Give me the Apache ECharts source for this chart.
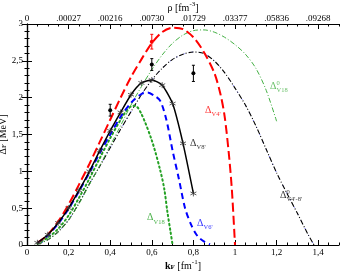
<!DOCTYPE html>
<html><head><meta charset="utf-8">
<script src="https://cdn.jsdelivr.net/npm/echarts@6/dist/echarts.min.js"></script>
<style>html,body{margin:0;padding:0;background:#fff}#c{width:342px;height:273px}</style>
</head><body><div id="c"></div>
<script>
// ---- data ----
const xTickValues = [0, 0.2, 0.4, 0.6, 0.8, 1.0, 1.2, 1.4];
const xTickLabels = ['0', '0,2', '0,4', '0,6', '0,8', '1', '1,2', '1,4'];
const rhoTickLabels = ['0', '.00027', '.00216', '.00730', '.01729', '.03377', '.05836', '.09268'];
const yTickValues = [0, 0.5, 1, 1.5, 2, 2.5, 3];
const yTickLabels = ['0', '0,5', '1', '1,5', '2', '2,5', '3'];

const kV4 = [0.05,0.1,0.15,0.2,0.25,0.3,0.35,0.4,0.45,0.5,0.55,0.6,0.65,0.7,0.75,0.8,0.85,0.9,0.93,0.95,0.97,0.985,1.0];
const dV4 = [0.03,0.14,0.32,0.55,0.82,1.1,1.4,1.7,2.0,2.28,2.52,2.74,2.89,2.95,2.93,2.82,2.62,2.34,2.05,1.75,1.25,0.75,0.0];

const kV8 = [0.05,0.1,0.15,0.2,0.25,0.3,0.35,0.4,0.45,0.5,0.55,0.6,0.65,0.7,0.75,0.8];
const dV8 = [0.03,0.14,0.3,0.5,0.74,1.0,1.28,1.55,1.8,2.04,2.2,2.24,2.17,1.92,1.38,0.7];

const kV6 = [0.05,0.1,0.15,0.2,0.25,0.3,0.35,0.4,0.45,0.5,0.55,0.58,0.61,0.64,0.67,0.7,0.73,0.76,0.79,0.82,0.85,0.88];
const dV6 = [0.03,0.13,0.29,0.49,0.73,0.98,1.25,1.5,1.74,1.93,2.05,2.07,2.03,1.96,1.7,1.28,0.9,0.5,0.27,0.12,0.05,0.01];

const kV18 = [0.05,0.1,0.15,0.2,0.25,0.3,0.35,0.4,0.45,0.48,0.5,0.52,0.55,0.6,0.64,0.66,0.675,0.69,0.7];
const dV18 = [0.02,0.1,0.22,0.4,0.64,0.9,1.18,1.45,1.7,1.83,1.88,1.89,1.78,1.42,1.02,0.76,0.45,0.18,0.0];

const kV18free = [0.05,0.1,0.15,0.2,0.25,0.3,0.35,0.4,0.45,0.5,0.55,0.6,0.65,0.7,0.75,0.8,0.85,0.9,0.95,1.0,1.05,1.1,1.15,1.2];
const dV18free = [0.01,0.07,0.18,0.34,0.56,0.82,1.08,1.35,1.62,1.9,2.15,2.38,2.58,2.74,2.85,2.91,2.92,2.89,2.82,2.72,2.59,2.4,2.1,1.68];

const kV48free = [0.05,0.1,0.15,0.2,0.25,0.3,0.35,0.4,0.45,0.5,0.55,0.6,0.65,0.7,0.75,0.8,0.85,0.9,0.95,1.0,1.05,1.1,1.15,1.2,1.25,1.3,1.35,1.38];
const dV48free = [0.01,0.07,0.18,0.34,0.57,0.83,1.07,1.32,1.57,1.81,2.04,2.24,2.4,2.52,2.59,2.62,2.6,2.5,2.34,2.13,1.9,1.62,1.3,0.98,0.7,0.43,0.15,0.0];

const kErrBlack = [0.4, 0.6, 0.8];
const dErrBlack = [1.83, 2.45, 2.33];
const eErrBlack = [0.08, 0.08, 0.11];
const kErrRed = [0.6];
const dErrRed = [2.76];
const eErrRed = [0.1];

const labelSubs = ["V4'", "V8'", "V6'", "V18", "V18", "V4'-8'"];
const labelSups = ['', '', '', '', '0', '0'];
const labelK = [0.856, 0.784, 0.817, 0.577, 1.168, 1.216];
const labelV = [1.83, 1.385, 0.30, 0.37, 2.16, 0.68];

// ---- styles ----
const FONT = 'Liberation Serif';
const RED = '#ff0000', BLUE = '#0000ff', GREEN = '#22a022', LGREEN = '#44b044', BLACK = '#000000';
const labelColors = [RED, BLACK, BLUE, GREEN, LGREEN, BLACK];

const zip = (a, b) => a.map((x, i) => [x, b[i]]);
const fmtFrom = (vals, labs) => v => { const i = vals.findIndex(t => Math.abs(t - v) < 1e-6); return i >= 0 ? labs[i] : ''; };

const baseAxisLine = { show: true, lineStyle: { color: BLACK, width: 1.2 } };
const tickLabelStyle = { fontFamily: FONT, fontSize: 9, color: BLACK };

function xMajor(position, labs, name, gap, margin) {
  return {
    type: 'value', position, min: 0, max: 1.5, interval: 0.2,
    axisLine: baseAxisLine,
    axisTick: { show: true, inside: true, length: 5, lineStyle: { color: BLACK, width: 1 } },
    axisLabel: Object.assign({ margin, formatter: fmtFrom(xTickValues, labs), showMaxLabel: false }, tickLabelStyle),
    splitLine: { show: false },
    name, nameLocation: 'middle', nameGap: gap, nameMoveOverlap: false,
    nameTextStyle: {
      fontFamily: FONT, fontSize: 10, color: BLACK,
      rich: {
        n: { fontFamily: FONT, fontSize: 10, color: BLACK, verticalAlign: 'bottom', lineHeight: 12 },
        b: { fontFamily: FONT, fontSize: 10, fontWeight: 'bold', color: BLACK, verticalAlign: 'bottom', lineHeight: 12 },
        s: { fontFamily: FONT, fontSize: 7, fontWeight: 'bold', color: BLACK, verticalAlign: 'bottom', lineHeight: 8, padding: [6, 0, 0, 0] },
        p: { fontFamily: FONT, fontSize: 7, color: BLACK, verticalAlign: 'top', lineHeight: 8 }
      }
    }
  };
}
function xMinor(position) {
  return {
    type: 'value', position, min: 0, max: 1.5, interval: 0.05,
    axisLine: { show: false },
    axisTick: { show: true, inside: true, length: 2.5, lineStyle: { color: BLACK, width: 1 } },
    axisLabel: { show: false }, splitLine: { show: false }
  };
}
function yAxis(position, showLabel) {
  return {
    type: 'value', position, min: 0, max: 3, interval: 0.5,
    axisLine: baseAxisLine,
    axisTick: { show: true, inside: true, length: 5, lineStyle: { color: BLACK, width: 1 } },
    minorTick: { show: true, splitNumber: 5, length: 2.5, lineStyle: { color: BLACK, width: 1 } },
    axisLabel: Object.assign({ show: showLabel, margin: 4, formatter: fmtFrom(yTickValues, yTickLabels) }, tickLabelStyle),
    splitLine: { show: false },
    name: showLabel ? '{d|Δ}{s|F}{n| [MeV]}' : '', nameLocation: 'middle', nameGap: 19, nameRotate: 90, nameMoveOverlap: false,
    nameTextStyle: {
      rich: {
        d: { fontFamily: FONT, fontSize: 10, color: BLACK, verticalAlign: 'top', lineHeight: 10 },
        n: { fontFamily: FONT, fontSize: 10, color: BLACK, verticalAlign: 'top', lineHeight: 10 },
        s: { fontFamily: FONT, fontSize: 7, color: BLACK, verticalAlign: 'bottom', lineHeight: 7, padding: [5, 0, 0, 0] }
      }
    }
  };
}

function errBarSeries(ks, ds, es, color) {
  return {
    type: 'custom', xAxisIndex: 0, yAxisIndex: 0, z: 5,
    data: ks.map((k, i) => [k, ds[i], es[i]]),
    renderItem(params, api) {
      const k = api.value(0), v = api.value(1), e = api.value(2);
      const p = api.coord([k, v]), lo = api.coord([k, v - e]), hi = api.coord([k, v + e]);
      return {
        type: 'group', children: [
          { type: 'line', shape: { x1: p[0], y1: hi[1], x2: p[0], y2: lo[1] }, style: { stroke: color, lineWidth: 1 } },
          { type: 'line', shape: { x1: p[0] - 1.5, y1: hi[1], x2: p[0] + 1.5, y2: hi[1] }, style: { stroke: color, lineWidth: 1 } },
          { type: 'line', shape: { x1: p[0] - 1.5, y1: lo[1], x2: p[0] + 1.5, y2: lo[1] }, style: { stroke: color, lineWidth: 1 } },
          { type: 'circle', shape: { cx: p[0], cy: p[1], r: 2 }, style: { fill: color } }
        ]
      };
    }
  };
}

const starPath = 'path://M5,0L5,10M0.7,2.5L9.3,7.5M0.7,7.5L9.3,2.5';

const lineSeries = (data, color, width, type, extra) => Object.assign({
  type: 'line', xAxisIndex: 0, yAxisIndex: 0, data, smooth: 0.3, symbol: 'none',
  lineStyle: { color, width, type }, z: 3
}, extra || {});

const labelRich = (color) => ({
  d: { fontFamily: FONT, fontSize: 10, color, lineHeight: 10 },
  p: { fontFamily: FONT, fontSize: 6.5, color, lineHeight: 7 },
  b: { fontFamily: FONT, fontSize: 6.5, color, lineHeight: 7 }
});

const deltaLabels = {
  type: 'scatter', xAxisIndex: 0, yAxisIndex: 0, symbolSize: 0, z: 10, silent: true,
  data: labelK.map((k, i) => ({
    value: [k, labelV[i]],
    label: { show: true, position: 'right', distance: 0, formatter: '{d|Δ}', rich: labelRich(labelColors[i]) }
  })).concat(labelK.map((k, i) => ({
    value: [k, labelV[i]],
    label: { show: true, position: 'right', distance: 0, offset: [6.5, 1], formatter: '{p|' + (labelSups[i] || ' ') + '}\n{b|' + labelSubs[i] + '}', rich: labelRich(labelColors[i]) }
  })))
};

const option = {
  backgroundColor: '#ffffff',
  animation: false,
  grid: { left: 27, right: 3, top: 24, bottom: 28, containLabel: false, outerBoundsMode: 'none' },
  xAxis: [
    xMajor('bottom', xTickLabels, '{b|k}{s|F}{n| [fm}{p|-1}{n|]}', 14, 3),
    xMinor('bottom'),
    xMajor('top', rhoTickLabels, '{n|ρ [fm}{p|-3}{n|]}', 11, 1),
    xMinor('top')
  ],
  yAxis: [yAxis('left', true), yAxis('right', false)],
  series: [
    lineSeries(zip(kV48free, dV48free), '#4040ff', 1, [1, 7], { lineStyle: { color: '#6060ff', width: 1, type: [1, 7], dashOffset: 3 }, z: 2 }),
    lineSeries(zip(kV48free, dV48free), BLACK, 1.1, [5, 2, 1, 2]),
    lineSeries(zip(kV18free, dV18free), LGREEN, 1, [5, 2, 1, 2]),
    lineSeries(zip(kV18, dV18), GREEN, 2, [1.5, 3], { lineStyle: { color: GREEN, width: 2, type: [1.5, 3], cap: 'round' } }),
    lineSeries(zip(kV6, dV6), BLUE, 2, [6, 4]),
    lineSeries(zip(kV4, dV4), RED, 2, [9, 4]),
    lineSeries(zip(kV8, dV8), BLACK, 1.5, 'solid', {
      symbol: starPath, symbolSize: 6, showSymbol: true, showAllSymbol: true,
      itemStyle: { color: 'none', borderColor: '#333', borderWidth: 0.8 }, smooth: 0.2
    }),
    errBarSeries(kErrBlack, dErrBlack, eErrBlack, BLACK),
    errBarSeries(kErrRed, dErrRed, eErrRed, RED),
    deltaLabels
  ]
};

const chart = echarts.init(document.getElementById('c'), null, { renderer: 'canvas' });
chart.setOption(option);
</script>
</body></html>
